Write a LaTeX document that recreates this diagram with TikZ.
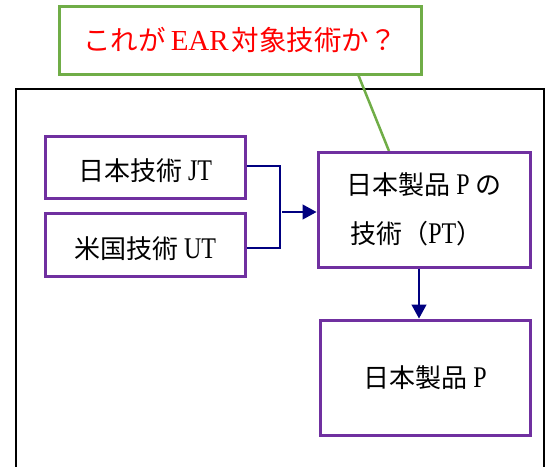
\documentclass[tikz,border=0pt]{standalone}
\usepackage{fontspec}
\setmainfont{Liberation Serif}
\newfontfamily\cjk{Noto Sans CJK JP}
\newfontfamily\nar{Liberation Serif}[FakeStretch=0.8]
\usetikzlibrary{arrows.meta}
\definecolor{pur}{RGB}{112,48,160}
\definecolor{grn}{RGB}{112,173,71}
\definecolor{nav}{RGB}{0,0,128}
\newcommand\J[1]{{\cjk\fontsize{26pt}{30pt}\selectfont #1}}
\newcommand\LT[1]{{\nar\fontsize{30pt}{30pt}\selectfont #1}}
\newcommand\RJ[1]{{\cjk\fontsize{27.5pt}{30pt}\selectfont #1}}
\newcommand\RL[1]{{\fontsize{29pt}{30pt}\selectfont #1}}
\newcommand\lowr[1]{\raisebox{-4pt}[\height][\depth]{#1}}
\begin{document}
\begin{tikzpicture}[x=1pt,y=-1pt,
  box/.style={draw=pur,line width=3pt,fill=white,inner sep=0pt},
  conn/.style={draw=nav,line width=1.3pt},
  tip/.style={-{Triangle[length=14pt,width=15pt]}}]
\useasboundingbox (0,0) rectangle (546,466);
\draw[line width=2.2pt] (16,89) rectangle (544,480);
\node[draw=grn,line width=3pt,fill=white,minimum width=362pt,minimum height=68pt,inner sep=0pt,text=red] (q) at (240,40)
  {\RJ{これが}\hspace{5pt}\RL{EAR}\hspace{3pt}\RJ{対象技術か？}};
\coordinate (gend) at (389,151);
\draw[grn,line width=2.5pt] ([xshift=-64pt]q.south east) -- (gend);
\node[box,minimum width=200pt,minimum height=62pt] (jt) at (145,167)
  {\lowr{\J{日本技術}\hspace{6pt}\LT{JT}}};
\node[box,minimum width=200pt,minimum height=63pt] (ut) at (145,244.5)
  {\lowr{\J{米国技術}\hspace{6pt}\LT{UT}}};
\node[box,minimum width=212pt,minimum height=115pt,align=left] (pt) at (424,209.5)
  {\J{日本製品}\hspace{6pt}\LT{P}\hspace{6pt}\J{の}\\[24pt]\hspace{4pt}\J{技術（}\LT{PT}\J{）}};
\node[box,minimum width=210pt,minimum height=115pt] (p) at (425,377.5)
  {\J{日本製品}\hspace{6pt}\LT{P}};
\coordinate (b1) at (280,166);
\coordinate (b2) at (280,248);
\coordinate (am) at (282,212);
\draw[conn] (jt.east |- b1) -- (b1) -- (b2) -- (ut.east |- b2);
\draw[conn,tip] (am) -- (pt.west |- am);
\draw[conn,tip] ([xshift=-5pt]pt.south) -- ([xshift=-6pt]p.north);
\end{tikzpicture}
\end{document}
